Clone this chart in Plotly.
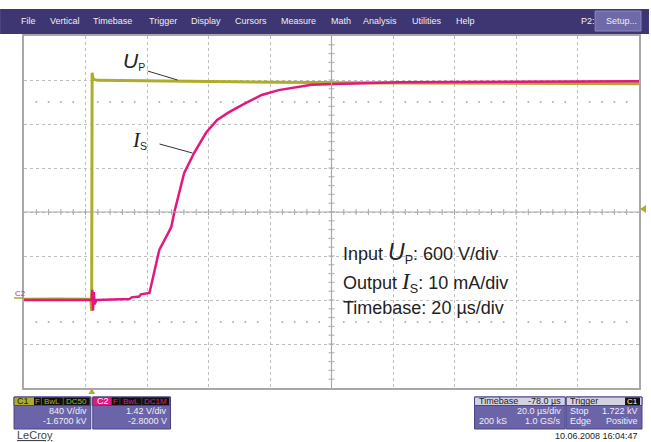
import plotly.graph_objects as go

# ── trace data ──
# time in µs relative to the trigger point
t_up = [-22, -12, -0.3, 0.0, 0.15, 0.5, 2, 20, 60, 100, 178]
up_volts = [10, 15, 10, -150, 3100, 3010, 2995, 2985, 2970, 2958, 2950]

t_is = [-22, 0, 0.2, 0.45, 0.7, 1.0, 1.5, 12.3, 13, 15.5, 16, 18.8, 22.0, 25.9, 26.9,
        30.1, 33.3, 37.2, 40.8, 44.7, 50.2, 55.3, 60.8, 66.3, 71.5, 79.3, 86.7, 100, 178]
is_ma = [0, 0, 2.3, -2.4, 1.8, -1.0, 0, 0.2, 0.6, 0.8, 1.3, 1.6, 11.4, 16.6, 20.0,
         28.9, 33.4, 38.0, 40.9, 42.7, 44.8, 46.6, 47.7, 48.4, 48.9, 49.1, 49.3, 49.5, 49.7]

menu_items = ["File", "Vertical", "Timebase", "Trigger", "Display", "Cursors",
              "Measure", "Math", "Analysis", "Utilities", "Help"]
menu_x = [19, 48, 91, 147, 190, 234, 280, 330, 362, 411, 455]

# screen geometry (pixels)
W, H = 651, 442
L, R, T, B = 24, 641, 36, 388
YEL = "#ADAD2A"
MAG = "#E3177F"
PANEL = "#6B64A8"
GRID = "#BEBEBE"
FONT = "Liberation Sans, Arial, sans-serif"


def px(x):
    return (x - L) / (R - L)


def py(y):
    return (B - y) / (B - T)


fig = go.Figure()

# dotted rows at +/-2.5 div
sub_x = [-22 + 4 * k for k in range(51) if k % 5 != 0]
for yv in (2700, -300):
    fig.add_trace(go.Scatter(x=sub_x, y=[yv] * len(sub_x), mode="markers",
                             marker=dict(size=2, color="#B0B0B0"),
                             hoverinfo="skip", showlegend=False))

fig.add_trace(go.Scatter(x=t_up, y=up_volts, mode="lines", name="UP",
                         line=dict(color=YEL, width=3), showlegend=False))
fig.add_trace(go.Scatter(x=t_is, y=is_ma, mode="lines", name="IS", yaxis="y2",
                         line=dict(color=MAG, width=2.5), showlegend=False))

shapes = []
# center cross with small ticks
shapes.append(dict(type="line", xref="paper", yref="paper", x0=0, x1=1, y0=0.5, y1=0.5,
                   line=dict(color="#A8A8A8", width=1.2)))
shapes.append(dict(type="line", xref="paper", yref="paper", x0=0.5, x1=0.5, y0=0, y1=1,
                   line=dict(color="#A8A8A8", width=1.2)))
for k in range(1, 50):
    xx = k / 50
    shapes.append(dict(type="line", xref="paper", yref="paper", x0=xx, x1=xx,
                       y0=0.5 - 3 / 352, y1=0.5 + 3 / 352, line=dict(color="#A8A8A8", width=1)))
for k in range(1, 40):
    yy = k / 40
    shapes.append(dict(type="line", xref="paper", yref="paper", x0=0.5 - 3 / 617, x1=0.5 + 3 / 617,
                       y0=yy, y1=yy, line=dict(color="#A8A8A8", width=1)))

# menu bar
shapes.append(dict(type="rect", xref="paper", yref="paper", x0=px(0), x1=px(W),
                   y0=py(34), y1=py(9), fillcolor="#3D3672", line=dict(width=0), layer="below"))
shapes.append(dict(type="rect", xref="paper", yref="paper", x0=px(597), x1=px(643),
                   y0=py(31), y1=py(11), fillcolor="#6F69A8", line=dict(color="#8E89C0", width=1)))

# leader lines
shapes.append(dict(type="line", xref="paper", yref="paper", x0=px(148), y0=py(71), x1=px(178), y1=py(80),
                   line=dict(color="#333", width=1)))
shapes.append(dict(type="line", xref="paper", yref="paper", x0=px(160), y0=py(144), x1=px(193), y1=py(153),
                   line=dict(color="#333", width=1)))


# bottom info panels
def panel(x0, x1, head_col):
    shapes.append(dict(type="rect", xref="paper", yref="paper", x0=px(x0), x1=px(x1),
                       y0=py(429), y1=py(397), fillcolor=PANEL, line=dict(color="#4B4585", width=1)))
    shapes.append(dict(type="rect", xref="paper", yref="paper", x0=px(x0), x1=px(x1),
                       y0=py(405.5), y1=py(397), fillcolor=head_col, line=dict(color="#4B4585", width=1)))


panel(14, 91, YEL)
panel(93, 171, MAG)
panel(476, 567, "#D3D2E3")
panel(568, 644, "#D3D2E3")

# black tag boxes
tags = [(34, 41), (41.5, 63), (63.5, 90), (112, 120), (120.5, 142), (142.5, 169.5), (627, 642)]
for x0, x1 in tags:
    shapes.append(dict(type="rect", xref="paper", yref="paper", x0=px(x0), x1=px(x1),
                       y0=py(405), y1=py(397.5), fillcolor="#111", line=dict(width=0)))

# trigger markers
shapes.append(dict(type="path", xref="paper", yref="paper",
                   path=f"M {px(88.5)} {py(394)} L {px(95.5)} {py(394)} L {px(92)} {py(388.5)} Z",
                   fillcolor=YEL, line=dict(width=0)))
shapes.append(dict(type="path", xref="paper", yref="paper",
                   path=f"M {px(648)} {py(205)} L {px(648)} {py(213)} L {px(642)} {py(209)} Z",
                   fillcolor=YEL, line=dict(width=0)))
shapes.append(dict(type="line", xref="paper", yref="paper", x0=px(14), x1=px(24), y0=py(298), y1=py(298),
                   line=dict(color=YEL, width=1.5)))

ann = []


def txt(x, y, s, size=9, color="#EEEEF5", anchor="left", family=FONT):
    ann.append(dict(x=px(x), y=py(y), xref="paper", yref="paper", text=s, showarrow=False,
                    xanchor=anchor, yanchor="middle", font=dict(size=size, color=color, family=family)))


for name, x in zip(menu_items, menu_x):
    txt(x, 21, name)
txt(581, 21, "P2:")
txt(606, 21, "Setup...")

# curve labels
txt(121, 61, "<span style='font-size:21px'><i>U</i></span><sub>P</sub>", size=15, color="#222")
txt(130, 140, "<span style='font-size:21px;font-family:Liberation Serif'><i>I</i></span><sub>S</sub>",
    size=15, color="#222")

# setting text
txt(342, 253, "Input <span style='font-size:23px'><i>U</i></span><sub>P</sub>: 600 V/div", size=18, color="#222")
txt(342, 282, "Output <span style='font-size:23px;font-family:Liberation Serif'><i>I</i></span><sub>S</sub>: 10 mA/div",
    size=18, color="#222")
txt(342, 308, "Timebase: 20 µs/div", size=18, color="#222")

# channel marker
txt(13, 293, "C2", size=8, color="#C8306A")

# channel panels
txt(15, 401, "C1", size=9, color="#222")
txt(37.5, 401.3, "F", size=8, color=YEL, anchor="center")
txt(52, 401.3, "BwL", size=8, color=YEL, anchor="center")
txt(76.5, 401.3, "DC50", size=8, color=YEL, anchor="center")
txt(89, 411, "840 V/div", anchor="right")
txt(89, 421, "-1.6700 kV", anchor="right")
txt(95, 401, "C2", size=9, color="#FFFFFF")
txt(116, 401.3, "F", size=8, color=MAG, anchor="center")
txt(131, 401.3, "BwL", size=8, color=MAG, anchor="center")
txt(156, 401.3, "DC1M", size=8, color=MAG, anchor="center")
txt(169, 411, "1.42 V/div", anchor="right")
txt(169, 421, "-2.8000 V", anchor="right")

# timebase / trigger panels
txt(478, 401, "Timebase", color="#222")
txt(565, 401, "-78.0 µs", color="#222", anchor="right")
txt(565, 411, "20.0 µs/div", anchor="right")
txt(478, 421, "200 kS")
txt(565, 421, "1.0 GS/s", anchor="right")
txt(570, 401, "Trigger", color="#222")
txt(634.5, 401.3, "C1", size=8, color="#FFFFFF", anchor="center")
txt(570, 411, "Stop")
txt(642, 411, "1.722 kV", anchor="right")
txt(570, 421, "Edge")
txt(642, 421, "Positive", anchor="right")

txt(642, 436, "10.06.2008 16:04:47", size=9, color="#222", anchor="right")
txt(15, 435, "<u>LeCroy</u>", size=11, color="#444")

fig.update_layout(
    width=W, height=H,
    margin=dict(l=L, r=W - R, t=T, b=H - B),
    paper_bgcolor="white",
    plot_bgcolor="white",
    showlegend=False,
    shapes=shapes,
    annotations=ann,
    xaxis=dict(range=[-22, 178], tickmode="linear", tick0=-2, dtick=20,
               showticklabels=False, ticks="", showgrid=True, gridcolor=GRID, griddash="dot",
               gridwidth=1, zeroline=False, showline=True, mirror=True,
               linecolor="#A8A8A8", linewidth=1.5),
    yaxis=dict(range=[-1200, 3600], tickmode="linear", tick0=0, dtick=600,
               showticklabels=False, ticks="", showgrid=True, gridcolor=GRID, griddash="dot",
               gridwidth=1, zeroline=False, showline=True, mirror=True,
               linecolor="#A8A8A8", linewidth=1.5),
    yaxis2=dict(range=[-20, 60], overlaying="y", showgrid=False, showticklabels=False,
                zeroline=False, ticks=""),
    font=dict(family=FONT),
)

# the page's default 8px body margin would shift the screen; drop it
fig.write_html("out.html", config={"displayModeBar": False},
               post_script="document.body.style.margin='0';")
